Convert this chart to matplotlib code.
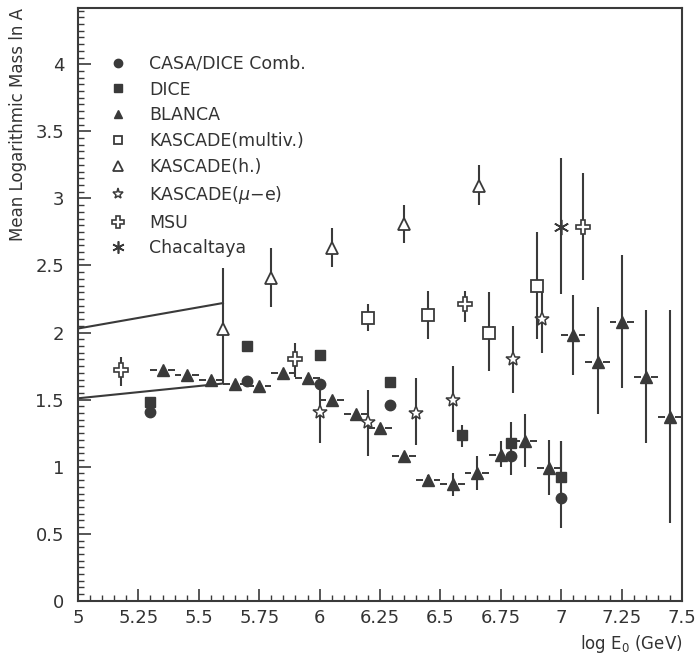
import numpy as np
import matplotlib
matplotlib.use("Agg")
import matplotlib.pyplot as plt
from matplotlib.ticker import MultipleLocator

plt.rcParams['font.family'] = ['DejaVu Sans']

# --- DATA ---
casa_x = [5.30, 5.70, 6.00, 6.29, 6.79, 7.00]
casa_y = [1.41, 1.64, 1.62, 1.46, 1.08, 0.77]
casa_lo = [0.0, 0.0, 0.0, 0.0, 0.14, 0.23]
casa_hi = [0.0, 0.0, 0.0, 0.0, 0.10, 0.42]

dice_x = [5.30, 5.70, 6.00, 6.29, 6.59, 6.79, 7.00]
dice_y = [1.48, 1.90, 1.83, 1.63, 1.24, 1.18, 0.92]
dice_lo = [0.0, 0.0, 0.0, 0.0, 0.09, 0.0, 0.0]
dice_hi = [0.0, 0.0, 0.0, 0.0, 0.07, 0.15, 0.27]

blanca_x = [5.35, 5.45, 5.55, 5.65, 5.75, 5.85, 5.95, 6.05, 6.15, 6.25, 6.35,
            6.45, 6.55, 6.65, 6.75, 6.85, 6.95, 7.05, 7.15, 7.25, 7.35, 7.45]
blanca_y = [1.72, 1.68, 1.65, 1.62, 1.60, 1.70, 1.66, 1.50, 1.39, 1.29, 1.08,
            0.90, 0.87, 0.95, 1.09, 1.19, 0.99, 1.98, 1.78, 2.08, 1.67, 1.37]
blanca_lo = [0.02, 0.02, 0.02, 0.02, 0.02, 0.02, 0.02, 0.02, 0.02, 0.02, 0.03,
             0.04, 0.09, 0.12, 0.09, 0.19, 0.20, 0.30, 0.39, 0.49, 0.49, 0.79]
blanca_hi = [0.02, 0.02, 0.02, 0.02, 0.02, 0.02, 0.02, 0.02, 0.02, 0.02, 0.03,
             0.04, 0.08, 0.13, 0.10, 0.20, 0.21, 0.30, 0.41, 0.50, 0.50, 0.80]
blanca_dx = 0.05

kmulti_x = [6.20, 6.45, 6.70, 6.90]
kmulti_y = [2.11, 2.13, 2.00, 2.35]
kmulti_lo = [0.10, 0.18, 0.29, 0.40]
kmulti_hi = [0.10, 0.18, 0.30, 0.40]

kh_x = [5.60, 5.80, 6.05, 6.35, 6.66]
kh_y = [2.03, 2.41, 2.63, 2.81, 3.09]
kh_lo = [0.41, 0.22, 0.14, 0.14, 0.14]
kh_hi = [0.45, 0.22, 0.15, 0.14, 0.16]

kmue_x = [6.00, 6.20, 6.40, 6.55, 6.80, 6.92]
kmue_y = [1.41, 1.33, 1.40, 1.50, 1.80, 2.10]
kmue_lo = [0.23, 0.25, 0.24, 0.24, 0.25, 0.25]
kmue_hi = [0.24, 0.24, 0.26, 0.25, 0.25, 0.25]

msu_x = [5.18, 5.90, 6.60, 7.09]
msu_y = [1.72, 1.80, 2.21, 2.79]
msu_lo = [0.12, 0.13, 0.13, 0.40]
msu_hi = [0.10, 0.12, 0.10, 0.40]

chac_x = [7.00]
chac_y = [2.79]
chac_lo = [0.50]
chac_hi = [0.51]

# two reference lines at low energy
line_x = [5.0, 5.6]
line_upper = [2.03, 2.22]
line_lower = [1.51, 1.62]

dark = '#3a3a3a'

fig = plt.figure(figsize=(6.96, 6.56), dpi=100)
ax = fig.add_axes([0.112, 0.084, 0.868, 0.904])

ax.plot(line_x, line_upper, color=dark, lw=1.5)
ax.plot(line_x, line_lower, color=dark, lw=1.5)

def bars(x, y, lo, hi):
    ax.errorbar(x, y, yerr=[lo, hi], fmt='none', ecolor=dark, elinewidth=1.5, capsize=0)

bars(casa_x, casa_y, casa_lo, casa_hi)
bars(dice_x, dice_y, dice_lo, dice_hi)
bars(blanca_x, blanca_y, blanca_lo, blanca_hi)
bars(kmulti_x, kmulti_y, kmulti_lo, kmulti_hi)
bars(kh_x, kh_y, kh_lo, kh_hi)
bars(kmue_x, kmue_y, kmue_lo, kmue_hi)
bars(msu_x, msu_y, msu_lo, msu_hi)
bars(chac_x, chac_y, chac_lo, chac_hi)

# BLANCA bin widths: short dashes on either side of the marker
bx = np.array(blanca_x)
ax.hlines(blanca_y, bx - blanca_dx, bx - 0.022, colors=dark, lw=1.4)
ax.hlines(blanca_y, bx + 0.022, bx + blanca_dx, colors=dark, lw=1.4)

ax.plot(casa_x, casa_y, 'o', ms=7.5, color=dark, ls='none', label='CASA/DICE Comb.')
ax.plot(dice_x, dice_y, 's', ms=7.5, color=dark, ls='none', label='DICE')
ax.plot(blanca_x, blanca_y, '^', ms=8, color=dark, ls='none', label='BLANCA')
ax.plot(kmulti_x, kmulti_y, 's', ms=8, mfc='white', mec=dark, mew=1.3, ls='none',
        label='KASCADE(multiv.)')
ax.plot(kh_x, kh_y, '^', ms=9, mfc='white', mec=dark, mew=1.3, ls='none',
        label='KASCADE(h.)')
ax.plot(kmue_x, kmue_y, '*', ms=10, mfc='white', mec=dark, mew=1.1, ls='none',
        label=r'KASCADE($\mu$$-$e)')
ax.plot(msu_x, msu_y, 'P', ms=10, mfc='white', mec=dark, mew=1.2, ls='none',
        label='MSU')
ax.plot(chac_x, chac_y, marker=(6, 2, 0), ms=11, color=dark, mew=1.2, ls='none',
        label='Chacaltaya')

ax.set_xlim(5, 7.5)
ax.set_ylim(0, 4.42)
ax.xaxis.set_minor_locator(MultipleLocator(0.05))
ax.yaxis.set_minor_locator(MultipleLocator(0.05))
ax.set_xticks([5, 5.25, 5.5, 5.75, 6, 6.25, 6.5, 6.75, 7, 7.25, 7.5])
ax.set_xticklabels(['5', '5.25', '5.5', '5.75', '6', '6.25', '6.5', '6.75', '7', '7.25', '7.5'])
ax.set_yticks([0, 0.5, 1, 1.5, 2, 2.5, 3, 3.5, 4])
ax.set_yticklabels(['0', '0.5', '1', '1.5', '2', '2.5', '3', '3.5', '4'])
ax.tick_params(which='both', direction='in', top=False, right=False, labelsize=13,
               color=dark, labelcolor='#333333')
ax.tick_params(which='major', length=9, width=1.2)
ax.tick_params(which='minor', length=4, width=1.0)
ax.tick_params(axis='x', pad=6)
ax.tick_params(axis='y', pad=10)
for s in ax.spines.values():
    s.set_linewidth(1.5)
    s.set_color(dark)

ax.set_ylabel('Mean Logarithmic Mass ln A', loc='top', fontsize=12, color='#333333')
ax.yaxis.set_label_coords(-0.085, 1.0)
ax.set_xlabel(r'log E$_0$ (GeV)', loc='right', fontsize=12, color='#333333', labelpad=4)

ax.legend(loc='upper left', bbox_to_anchor=(0.052, 0.921), frameon=False, fontsize=12.5,
          handlelength=1.0, handletextpad=1.3, labelspacing=0.45, borderaxespad=0,
          borderpad=0, markerscale=0.8, labelcolor='#333333')

fig.savefig('out.png', dpi=100)
